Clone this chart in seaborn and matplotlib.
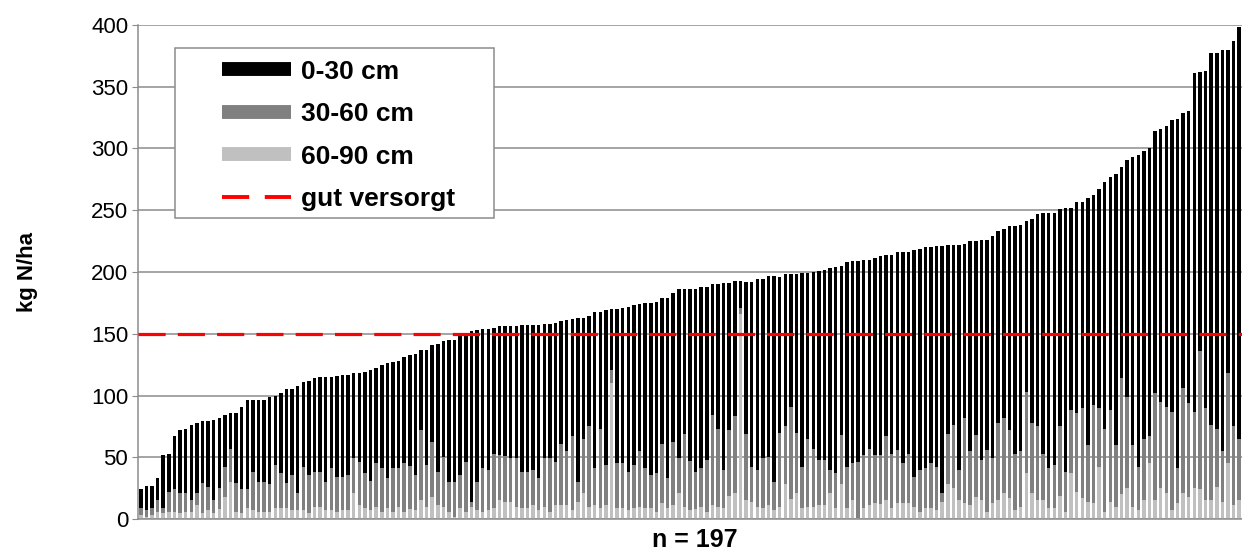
import numpy as np
import pandas as pd
import seaborn as sns
import matplotlib.pyplot as plt
from matplotlib.lines import Line2D
from matplotlib.patches import Rectangle

# soil nitrate per field, kg N/ha, per depth layer (fields sorted by total)
d0_30 = [15, 20, 18, 18, 43, 31, 43, 51, 52, 61, 57, 50, 53, 65, 57, 42, 29,
         57, 67, 72, 58, 66, 66, 71, 56, 65, 76, 69, 87, 69, 76, 76, 77,
         85, 74, 82, 83, 81, 69, 72, 82, 90, 77, 84, 93, 86, 87, 86, 90,
         98, 65, 93, 79, 104, 94, 115, 115, 113, 104, 138, 123, 113, 114, 102, 104, 105,
         107, 107, 119, 119, 117, 124, 109, 109, 113, 99, 106, 95, 133, 98, 89, 127, 95,
         125, 49, 125, 126, 134, 129, 119, 134, 139, 139, 118, 146, 121, 137, 117, 139, 148,
         147, 140, 106, 117, 151, 119, 110, 22, 123, 150, 154, 145, 147, 167, 126, 123,
         107, 128, 157, 134, 143, 153, 154, 163, 167, 137, 166, 164, 163, 158, 153, 159, 161,
         147, 161, 160, 171, 163, 184, 179, 179, 175, 179, 200, 153, 146, 182, 141, 170,
         157, 178, 170, 180, 155, 153, 165, 184, 183, 138, 165, 172, 195, 207, 204, 176,
         214, 164, 171, 167, 200, 170, 177, 200, 189, 219, 171, 192, 233, 253, 233, 233,
         212, 221, 227, 236, 283, 223, 236, 274, 226, 273, 301, 304, 325, 262, 312, 333]

d30_60 = [6, 5, 6, 9, 4, 16, 18, 16, 15, 9, 10, 24, 19, 10, 17, 24, 27,
          23, 19, 15, 31, 24, 24, 22, 35, 28, 20, 29, 14, 35, 31, 28, 28,
          23, 34, 28, 27, 29, 28, 35, 28, 24, 35, 35, 24, 35, 31, 39, 35,
          29, 57, 34, 44, 27, 40, 24, 28, 27, 40, 4, 23, 35, 33, 44, 37, 37,
          35, 39, 29, 29, 29, 26, 39, 43, 35, 50, 44, 60, 16, 44, 65, 30, 64,
          33, 11, 36, 36, 31, 35, 45, 32, 27, 31, 48, 24, 51, 28, 59, 40, 30,
          31, 42, 73, 63, 31, 53, 62, 5, 54, 28, 30, 40, 39, 23, 60, 47,
          75, 49, 33, 55, 47, 37, 37, 19, 28, 40, 33, 30, 45, 43, 46, 39, 40,
          52, 44, 43, 32, 40, 24, 34, 32, 36, 35, 7, 41, 51, 25, 69, 44,
          50, 33, 50, 36, 63, 61, 55, 46, 45, 66, 57, 60, 38, 32, 35, 56,
          32, 51, 64, 73, 46, 79, 48, 67, 74, 50, 94, 74, 50, 35, 50, 22,
          87, 70, 70, 80, 28, 85, 76, 62, 112, 75, 61, 47, 41, 73, 64, 50]

d60_90 = [3, 2, 3, 6, 5, 6, 6, 5, 6, 6, 11, 5, 7, 5, 8, 18, 30,
          6, 5, 9, 7, 6, 6, 6, 9, 9, 9, 7, 7, 7, 5, 10, 10,
          7, 7, 6, 7, 7, 21, 11, 9, 7, 10, 6, 9, 6, 10, 6, 8,
          7, 15, 10, 18, 11, 10, 6, 2, 9, 6, 10, 7, 6, 7, 9, 15, 14,
          14, 10, 9, 9, 11, 7, 10, 6, 11, 11, 11, 7, 14, 21, 10, 11, 9,
          11, 110, 9, 9, 7, 9, 10, 9, 9, 6, 13, 9, 11, 21, 10, 7, 8,
          10, 6, 11, 10, 9, 19, 21, 166, 15, 14, 10, 9, 11, 7, 10, 28,
          16, 21, 9, 10, 10, 11, 11, 21, 9, 28, 9, 15, 1, 9, 11, 13, 12,
          15, 9, 13, 13, 13, 10, 6, 9, 9, 7, 14, 28, 25, 15, 13, 11,
          18, 15, 6, 13, 15, 21, 17, 7, 10, 37, 21, 15, 15, 9, 9, 19,
          6, 37, 22, 17, 14, 13, 42, 6, 14, 10, 20, 25, 10, 7, 15, 45,
          15, 25, 21, 7, 13, 21, 18, 25, 24, 15, 15, 26, 14, 45, 11, 15]

threshold = 150
n_fields = len(d0_30)

layer_labels = ["0-30 cm", "30-60 cm", "60-90 cm"]
threshold_label = "gut versorgt"
layer_colors = ["#000000", "#808080", "#c0c0c0"]

# %%
df = pd.DataFrame({"field": np.arange(n_fields), "d0_30": d0_30, "d30_60": d30_60, "d60_90": d60_90})
# cumulative tops so the layers can be overdrawn from the total down
df["top_60_90"] = df["d60_90"]
df["top_30_60"] = df["d60_90"] + df["d30_60"]
df["top_0_30"] = df["top_30_60"] + df["d0_30"]

sns.set_style("white")
plt.rcParams["font.family"] = ["Liberation Sans", "DejaVu Sans"]
plt.rcParams.update({"text.color": "black", "axes.labelcolor": "black",
                     "xtick.color": "black", "ytick.color": "black"})

fig = plt.figure(figsize=(12.42, 5.54), dpi=100)
ax = fig.add_axes([138 / 1242, 35 / 554, 1104 / 1242, 494 / 554])

for col, c in zip(["top_0_30", "top_30_60", "top_60_90"], layer_colors):
    sns.barplot(data=df, x="field", y=col, color=c, saturation=1, width=0.62,
                linewidth=0, errorbar=None, ax=ax)

ax.axhline(threshold, color="#ff0000", lw=2.3, dashes=(8.5, 3.8), zorder=5)

ax.set_ylim(0, 400)
ax.set_xlim(-0.5, n_fields - 0.5)
ax.set_yticks(np.arange(0, 401, 50))
ax.set_xticks([])
ax.yaxis.grid(True, color="#8c8c8c", lw=1.1)
ax.set_axisbelow(True)
ax.tick_params(axis="y", labelsize=16, length=4, color="#8c8c8c",
               labelcolor="black", left=True, pad=3)

for s in ["top", "right"]:
    ax.spines[s].set_visible(False)
for s in ["left", "bottom"]:
    ax.spines[s].set_color("#8c8c8c")
    ax.spines[s].set_linewidth(1.1)

ax.set_ylabel("kg N/ha", fontsize=16, fontweight="bold")
ax.yaxis.set_label_coords(-0.091, 0.5)
ax.set_xlabel("n = 197", fontsize=18, fontweight="bold")
ax.xaxis.set_label_coords(0.5045, -0.018)

# legend frame drawn separately (Excel-style box with wide left margin)
frame = Rectangle((0.0335, 0.609), 0.289, 0.344, transform=ax.transAxes,
                  facecolor="white", edgecolor="#8c8c8c", lw=1.1, zorder=9)
ax.add_patch(frame)

handles = [Line2D([], [], color=c, lw=10, solid_capstyle="butt") for c in layer_colors]
handles.append(Line2D([], [], color="#ff0000", lw=2.8, dashes=(7, 4)))
leg = ax.legend(handles, layer_labels + [threshold_label], loc="upper left",
                bbox_to_anchor=(0.0761, 0.930), frameon=False,
                prop={"size": 19, "weight": "bold"}, handlelength=2.6,
                handletextpad=0.38, labelspacing=0.70, borderpad=0,
                borderaxespad=0)
leg.set_zorder(10)

fig.savefig("out.png", dpi=100)
